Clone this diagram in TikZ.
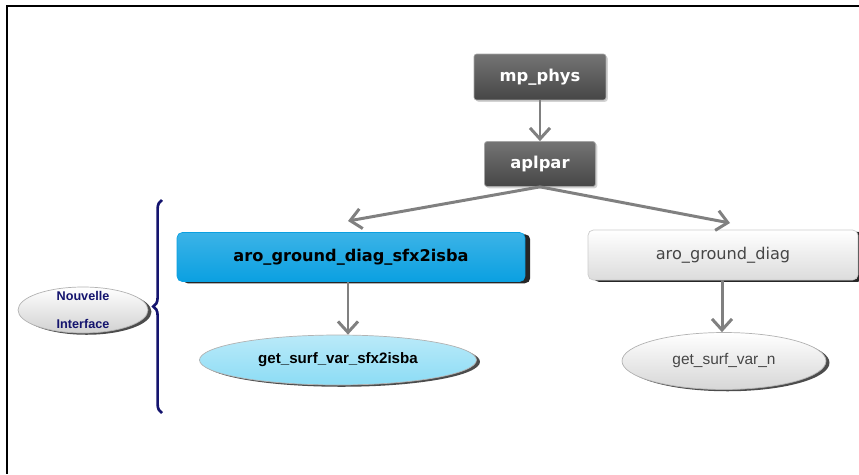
\documentclass[tikz,border=0pt]{standalone}
\usepackage{fontspec}
\setmainfont{DejaVu Sans}
\newfontfamily\arialfont{Liberation Sans}
\usetikzlibrary{arrows.meta,shadows,shapes.geometric,decorations.pathreplacing}

\definecolor{darkbox}{RGB}{70,70,70}
\definecolor{lightbox}{RGB}{236,236,236}
\definecolor{bluebox}{RGB}{10,160,225}
\definecolor{cyanoval}{RGB}{140,220,245}
\definecolor{navybrace}{RGB}{20,20,110}

\begin{document}
\begin{tikzpicture}[x=0.02cm, y=-0.02cm,
    darkfn/.style={rectangle, rounded corners=1.5pt, draw=gray!70, top color=darkbox!75, bottom color=darkbox,
        text=white, font=\bfseries\fontsize{9.3}{11}\selectfont, drop shadow={opacity=0.35, shadow xshift=1pt, shadow yshift=-1pt}},
    widefn/.style={rectangle, rounded corners=3pt, minimum width=6.96cm, minimum height=0.98cm,
        drop shadow={fill=black, opacity=0.85, shadow xshift=3pt, shadow yshift=-1pt}},
    ovalfn/.style={ellipse, draw=gray!60, font=\arialfont\fontsize{8.8}{10}\selectfont,
        drop shadow={fill=black, opacity=0.7, shadow xshift=2pt, shadow yshift=-1pt}},
    callarrow/.style={draw=gray, line width=1.7pt, -{Straight Barb[length=2.2mm, width=4mm]}}]

    \useasboundingbox (0,0) rectangle (859,474);
    \draw[line width=1.2pt] (859,6) -- (7,6) -- (7,474);

    \node[darkfn, minimum width=2.64cm, minimum height=0.92cm] (mpphys) at (540,77) {mp\_phys};
    \node[darkfn, minimum width=2.22cm, minimum height=0.9cm] (aplpar) at (540,164) {aplpar};

    \node[widefn, top color=bluebox!80, bottom color=bluebox, draw=bluebox,
        font=\bfseries\fontsize{9.2}{11}\selectfont] (arosfx) at (351,257) {aro\_ground\_diag\_sfx2isba};
    \node[widefn, minimum width=5.4cm, minimum height=1cm, top color=white, bottom color=lightbox!85!gray,
        draw=gray!40, text=darkbox, font=\fontsize{9.2}{11}\selectfont] (aro) at (723,255) {aro\_ground\_diag};

    \node[ovalfn, minimum width=5.54cm, minimum height=1cm, top color=cyanoval!60, bottom color=cyanoval,
        font=\arialfont\bfseries\fontsize{8.6}{10}\selectfont] (getsfx) at (338,360) {get\_surf\_var\_sfx2isba};
    \node[ovalfn, minimum width=4.08cm, minimum height=1.14cm, top color=white, bottom color=lightbox!80!gray,
        text=darkbox] (getn) at (724,361) {get\_surf\_var\_n};

    \node[ovalfn, minimum width=2.6cm, minimum height=0.92cm, inner ysep=-2.5pt, top color=white, bottom color=lightbox!75!gray,
        text=navybrace, align=center, font=\arialfont\bfseries\fontsize{7.2}{16}\selectfont] (nouvelle) at (83,310) {Nouvelle\\Interface};

    \coordinate (leftend) at (348,221);
    \coordinate (rightend) at (730,223);

    \draw[callarrow] (mpphys) -- (aplpar);
    \draw[callarrow] (aplpar.south) -- (leftend);
    \draw[callarrow] (aplpar.south) -- (rightend);
    \draw[callarrow] (arosfx.south -| 348,0) -- (getsfx.north -| 348,0);
    \draw[callarrow] (aro.south -| 722,0) -- (getn.north -| 722,0);

    \draw[navybrace, line width=1.5pt, decorate, decoration={brace, amplitude=5pt}] (162,413) -- (162,200);
\end{tikzpicture}
\end{document}
